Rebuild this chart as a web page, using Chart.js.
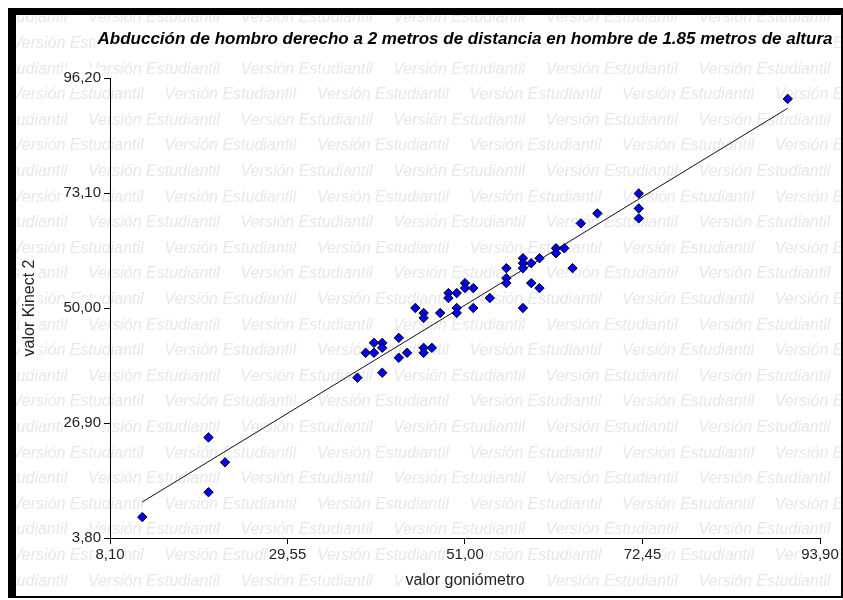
<!DOCTYPE html>
<html>
<head>
<meta charset="utf-8">
<script src="https://cdn.jsdelivr.net/npm/chart.js@4.4.1/dist/chart.umd.min.js"></script>
<style>
  html, body { margin: 0; padding: 0; background: #fff; }
  #wrap { width: 843px; height: 600px; }
</style>
</head>
<body>
<div id="wrap"><canvas id="chart" width="843" height="600"></canvas></div>
<script>
// Texts
const chartTitle = 'Abducción de hombro derecho a 2 metros de distancia en hombre de 1.85 metros de altura';
const xAxisTitle = 'valor goniómetro';
const yAxisTitle = 'valor Kinect 2';
const watermarkText = 'Versión Estudiantil';

// Observations: goniometer reading vs. Kinect 2 reading
const goniometro = [12, 20, 22, 20, 38, 41, 39, 40, 40, 41, 41, 43, 43, 44, 46, 47, 46,
  45, 46, 46, 48, 49, 50, 49, 50, 50, 51, 51, 52, 52, 54, 56, 56, 56, 58, 58, 58, 58,
  59, 59, 60, 60, 62, 62, 63, 64, 65, 67, 72, 72, 72, 90];
const kinect2 = [8, 24, 19, 13, 36, 37, 41, 41, 43, 43, 42, 44, 40, 41, 42, 42, 41,
  50, 49, 48, 49, 53, 53, 52, 50, 49, 55, 54, 54, 50, 52, 58, 56, 55, 60, 59, 58, 50,
  59, 55, 60, 54, 62, 61, 62, 58, 67, 69, 73, 70, 68, 92];

// Axis ticks
const xTicks = [8.10, 29.55, 51.00, 72.45, 93.90];
const yTicks = [3.80, 26.90, 50.00, 73.10, 96.20];

const FONT = "'Liberation Sans', Arial, sans-serif";
const AXIS_TITLE_SIZE = 16;
const fmt = v => Number(v).toFixed(2).replace('.', ',');

// Least-squares fit of kinect2 on goniometro
function leastSquares(xs, ys) {
  const n = xs.length;
  const mx = xs.reduce((a, b) => a + b, 0) / n;
  const my = ys.reduce((a, b) => a + b, 0) / n;
  let sxy = 0, sxx = 0;
  for (let i = 0; i < n; i++) {
    sxy += (xs[i] - mx) * (ys[i] - my);
    sxx += (xs[i] - mx) * (xs[i] - mx);
  }
  const slope = sxy / sxx;
  return { slope, intercept: my - slope * mx };
}
const fit = leastSquares(goniometro, kinect2);
const xMin = Math.min(...goniometro), xMax = Math.max(...goniometro);
const fitLine = [xMin, xMax].map(x => ({ x, y: fit.intercept + fit.slope * x }));

const points = goniometro.map((x, i) => ({ x, y: kinect2[i] }));

// Background, watermark, window frame and heading
const decor = {
  id: 'decor',
  beforeDraw(chart) {
    const ctx = chart.ctx;
    ctx.save();
    ctx.fillStyle = '#fff';
    ctx.fillRect(0, 0, chart.width, chart.height);

    ctx.beginPath();
    ctx.rect(16, 15, 827, 581);
    ctx.clip();
    ctx.font = 'italic 16px ' + FONT;
    ctx.fillStyle = '#e9e7e7';
    ctx.textBaseline = 'middle';
    ctx.textAlign = 'left';
    const period = 152.6, rowStep = 25.6;
    for (let r = 0; r < 24; r++) {
      const y = 18 + r * rowStep;
      const shift = (r % 2 === 0) ? 88 : 88 - period / 2;
      for (let x = shift - 2 * period; x < chart.width; x += period) {
        ctx.fillText(watermarkText, x, y);
      }
    }
    ctx.restore();

    // white boxes behind the axis titles
    const xs = chart.scales.x, ys = chart.scales.y;
    const lh = AXIS_TITLE_SIZE * 1.2;
    ctx.save();
    ctx.font = AXIS_TITLE_SIZE + 'px ' + FONT;
    ctx.fillStyle = '#fff';
    const wx = ctx.measureText(xAxisTitle).width;
    const cx = (xs.left + xs.right) / 2, cy = xs.bottom - lh / 2 - 6;
    ctx.fillRect(cx - wx / 2 - 2, cy - lh / 2, wx + 4, lh);
    const wy = ctx.measureText(yAxisTitle).width;
    const yx = ys.left + lh / 2 + 4, yy = (ys.top + ys.bottom) / 2;
    ctx.fillRect(yx - lh / 2, yy - wy / 2 - 2, lh, wy + 4);
    ctx.restore();
  },
  afterDraw(chart) {
    const ctx = chart.ctx;
    ctx.save();
    // heading
    ctx.font = 'italic bold 17px ' + FONT;
    ctx.textAlign = 'center';
    ctx.textBaseline = 'middle';
    const tx = (chart.chartArea.left + chart.chartArea.right) / 2, ty = 39;
    const tw = ctx.measureText(chartTitle).width;
    ctx.fillStyle = '#fff';
    ctx.fillRect(tx - tw / 2 - 2, ty - 11, tw + 4, 22);
    ctx.fillStyle = '#000';
    ctx.fillText(chartTitle, tx, ty);

    // frame
    ctx.fillStyle = '#000';
    ctx.fillRect(8, 8, 835, 7);
    ctx.fillRect(8, 8, 8, 590);
    ctx.fillRect(8, 596, 835, 2);
    ctx.fillRect(841, 8, 2, 590);
    ctx.restore();
  }
};

const tickFont = { family: FONT, size: 15 };
const titleFont = { family: FONT, size: AXIS_TITLE_SIZE };

new Chart(document.getElementById('chart'), {
  data: {
    datasets: [
      {
        type: 'scatter',
        data: points,
        pointStyle: 'rectRot',
        pointRadius: 4.7,
        pointHoverRadius: 4.7,
        backgroundColor: '#0000f5',
        borderColor: '#000',
        borderWidth: 1
      },
      {
        type: 'line',
        data: fitLine,
        borderColor: '#111',
        borderWidth: 1,
        pointRadius: 0,
        fill: false,
        tension: 0
      }
    ]
  },
  options: {
    responsive: false,
    animation: false,
    events: [],
    layout: { padding: { left: 16, right: 23, top: 78, bottom: 4 } },
    plugins: { legend: { display: false }, tooltip: { enabled: false }, title: { display: false } },
    scales: {
      x: {
        type: 'linear',
        position: 'bottom',
        min: xTicks[0],
        max: xTicks[xTicks.length - 1],
        afterBuildTicks: s => { s.ticks = xTicks.map(v => ({ value: v })); },
        afterFit: s => { s.height = 58; s.paddingLeft = 0; s.paddingRight = 0; },
        grid: { drawOnChartArea: false, drawTicks: true, tickLength: 6, color: '#000', tickColor: '#000' },
        border: { display: true, color: '#000', width: 1 },
        ticks: {
          autoSkip: false, maxRotation: 0, padding: 2, color: '#222', font: tickFont,
          callback: v => fmt(v),
          showLabelBackdrop: true, backdropColor: '#fff', backdropPadding: 1
        },
        title: { display: true, text: xAxisTitle, color: '#222', font: titleFont, padding: { top: 0, bottom: 6 } }
      },
      y: {
        type: 'linear',
        position: 'left',
        min: yTicks[0],
        max: yTicks[yTicks.length - 1],
        afterBuildTicks: s => { s.ticks = yTicks.map(v => ({ value: v })); },
        afterFit: s => { s.width = 94; s.paddingTop = 0; s.paddingBottom = 0; },
        grid: { drawOnChartArea: false, drawTicks: true, tickLength: 6, color: '#000', tickColor: '#000' },
        border: { display: true, color: '#000', width: 1 },
        ticks: {
          autoSkip: false, padding: 3, color: '#222', font: tickFont,
          callback: v => fmt(v),
          showLabelBackdrop: true, backdropColor: '#fff', backdropPadding: 1
        },
        title: { display: true, text: yAxisTitle, color: '#222', font: titleFont, padding: { top: 4, bottom: 0 } }
      }
    }
  },
  plugins: [decor]
});
</script>
</body>
</html>
